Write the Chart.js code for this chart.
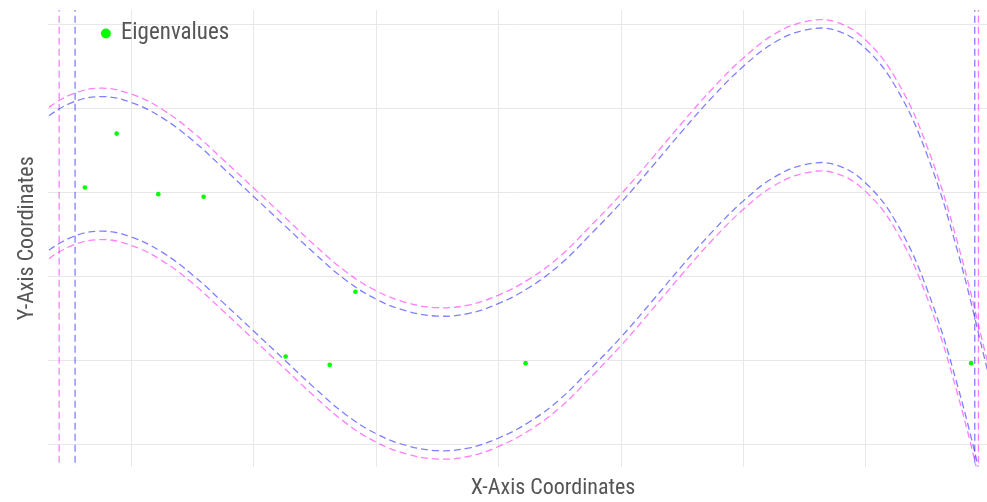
<!DOCTYPE html>
<html>
<head>
<meta charset="utf-8">
<script src="https://cdn.jsdelivr.net/npm/chart.js@4"></script>
<style>
  html, body { margin: 0; padding: 0; background: #fff; }
  #wrap { width: 987px; height: 502px; position: relative; }
</style>
</head>
<body>
<div id="wrap"><canvas id="myChart"></canvas></div>
<script>
// scatter points (eigenvalues)
const eigenX = [0.62, 0.88, 1.22, 1.59, 2.26, 2.62, 2.83, 4.22, 7.86];
const eigenY = [3.06, 3.70, 2.98, 2.95, 1.05, 0.95, 1.82, 0.97, 0.97];

// dashed curves at these x positions
const curveX = [0.25, 0.50, 0.75, 1.00, 1.25, 1.50, 1.75, 2.00, 2.25, 2.50, 2.75, 3.00, 3.25, 3.50, 3.75, 4.00,
  4.25, 4.50, 4.75, 5.00, 5.25, 5.50, 5.75, 6.00, 6.25, 6.50, 6.75, 7.00, 7.25, 7.50, 7.75, 8.00];
const blueUpper = [3.84, 4.06, 4.14, 4.07, 3.89, 3.62, 3.29, 2.95, 2.61, 2.27, 1.96, 1.73, 1.59, 1.53, 1.56, 1.68,
  1.87, 2.14, 2.50, 2.88, 3.30, 3.73, 4.14, 4.50, 4.78, 4.93, 4.93, 4.71, 4.24, 3.45, 2.30, 0.85];
const blueLower = [2.24, 2.46, 2.54, 2.47, 2.29, 2.02, 1.69, 1.35, 1.01, 0.67, 0.36, 0.13, -0.01, -0.07, -0.04, 0.08,
  0.27, 0.54, 0.90, 1.28, 1.70, 2.13, 2.54, 2.90, 3.18, 3.33, 3.33, 3.11, 2.64, 1.85, 0.70, -0.75];
const pinkUpper = [3.94, 4.16, 4.24, 4.17, 3.99, 3.72, 3.39, 3.05, 2.71, 2.37, 2.06, 1.83, 1.69, 1.63, 1.66, 1.78,
  1.97, 2.24, 2.60, 2.98, 3.40, 3.83, 4.24, 4.60, 4.88, 5.03, 5.03, 4.81, 4.34, 3.55, 2.40, 0.95];
const pinkLower = [2.14, 2.36, 2.44, 2.37, 2.19, 1.92, 1.59, 1.25, 0.91, 0.57, 0.26, 0.03, -0.11, -0.17, -0.14, -0.02,
  0.17, 0.44, 0.80, 1.18, 1.60, 2.03, 2.44, 2.80, 3.08, 3.23, 3.23, 3.01, 2.54, 1.75, 0.60, -0.85];

// vertical dashed lines
const pinkVerticals = [0.41, 7.92];
const blueVerticals = [0.54, 7.89];

// grid positions (no tick labels shown)
const xGrid = [1, 2, 3, 4, 5, 6, 7];
const yGrid = [0, 1, 2, 3, 4, 5];

const PINK = 'rgba(255, 0, 255, 0.5)';
const BLUE = 'rgba(0, 0, 255, 0.5)';
const FONT = "'Liberation Sans Narrow', 'Roboto Condensed', 'DejaVu Sans Condensed', sans-serif";

function toPoints(xs, ys) {
  return xs.map((x, i) => ({ x: x, y: ys[i] }));
}

function curve(label, ys, color) {
  return {
    label: label,
    data: toPoints(curveX, ys),
    showLine: true,
    borderColor: color,
    backgroundColor: color,
    borderWidth: 1.3,
    borderDash: [7, 4],
    pointRadius: 0,
    tension: 0.4
  };
}

function vertical(label, x, color) {
  return {
    label: label,
    data: [{ x: x, y: -1 }, { x: x, y: 6 }],
    showLine: true,
    borderColor: color,
    borderWidth: 1.3,
    borderDash: [7, 4],
    pointRadius: 0
  };
}

const datasets = [{
  label: 'Eigenvalues',
  data: toPoints(eigenX, eigenY),
  backgroundColor: '#00ff00',
  borderColor: '#00ff00',
  borderWidth: 0,
  pointRadius: 2.3,
  pointStyle: 'circle'
}];
datasets.push(curve('upper blue', blueUpper, BLUE));
datasets.push(curve('lower blue', blueLower, BLUE));
datasets.push(curve('upper pink', pinkUpper, PINK));
datasets.push(curve('lower pink', pinkLower, PINK));
blueVerticals.forEach(x => datasets.push(vertical('blue line', x, BLUE)));
pinkVerticals.forEach(x => datasets.push(vertical('pink line', x, PINK)));

// move the in-plot legend a bit right and down
const legendShift = {
  id: 'legendShift',
  afterLayout(chart) {
    if (chart.legend) {
      chart.legend.left += 44;
      chart.legend.right += 44;
      chart.legend.top += 12;
      chart.legend.bottom += 12;
    }
  }
};

const ctx = document.getElementById('myChart');

new Chart(ctx, {
  type: 'scatter',
  data: { datasets: datasets },
  plugins: [legendShift],
  options: {
    responsive: true,
    maintainAspectRatio: false,
    animation: false,
    layout: { autoPadding: false, padding: { left: 10, top: 10, right: 0, bottom: 0 } },
    plugins: {
      tooltip: { enabled: false },
      legend: {
        position: 'chartArea',
        align: 'start',
        labels: {
          usePointStyle: true,
          boxWidth: 7,
          boxHeight: 7,
          padding: 10,
          color: '#555',
          font: { family: FONT, size: 23 },
          filter: item => item.datasetIndex === 0
        }
      }
    },
    scales: {
      x: {
        type: 'linear',
        min: 0.322,
        max: 7.99,
        afterBuildTicks: scale => { scale.ticks = xGrid.map(v => ({ value: v })); },
        ticks: { display: false },
        grid: { color: '#e8e8e8', drawTicks: false },
        border: { display: false },
        title: {
          display: true,
          text: '              X-Axis Coordinates',
          color: '#555',
          font: { family: FONT, size: 22 },
          padding: { top: 9, bottom: 0 }
        }
      },
      y: {
        type: 'linear',
        min: -0.26,
        max: 5.17,
        afterBuildTicks: scale => { scale.ticks = yGrid.map(v => ({ value: v })); },
        ticks: { display: false },
        grid: { color: '#e8e8e8', drawTicks: false },
        border: { display: false },
        title: {
          display: true,
          text: 'Y-Axis Coordinates',
          color: '#555',
          font: { family: FONT, size: 22 },
          padding: { top: 4, bottom: 8 }
        }
      }
    }
  }
});
</script>
</body>
</html>
